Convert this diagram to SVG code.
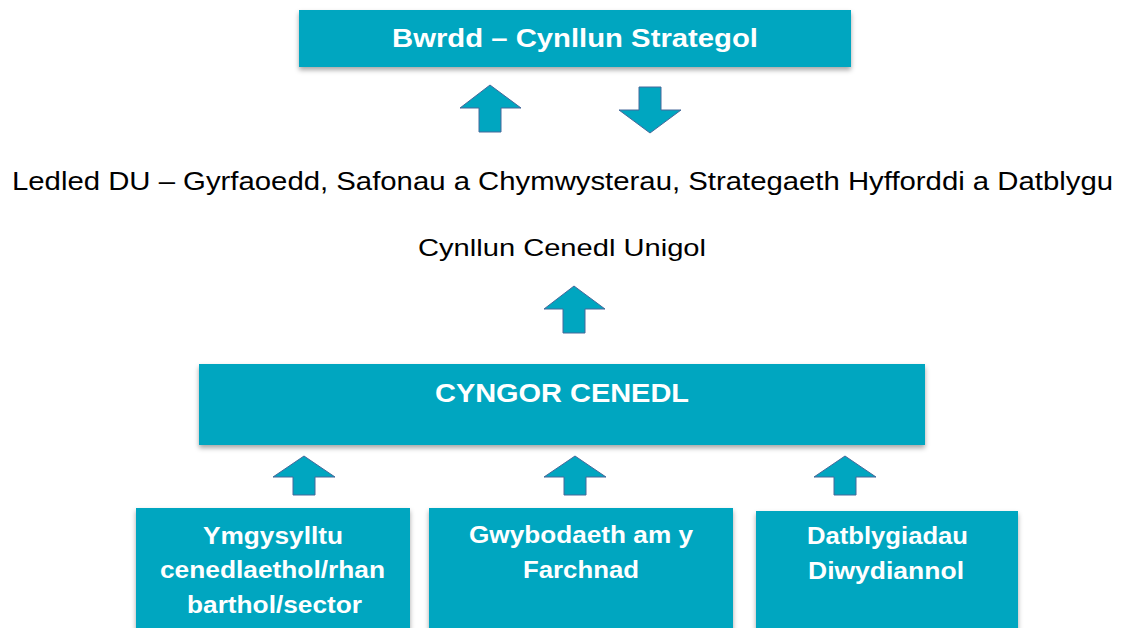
<svg xmlns="http://www.w3.org/2000/svg" width="1121" height="628" viewBox="0 0 1121 628">
<style>
.box{fill:#00A6C0;}
.arrow{fill:#00A6C0;stroke:#46689A;stroke-width:1;}
.wt{fill:#ffffff;font-family:"Liberation Sans",Arial,sans-serif;font-weight:bold;}
.bt{fill:#000000;font-family:"Liberation Sans",Arial,sans-serif;}
</style>
<defs>
<filter id="sh" x="-5%" y="-20%" width="110%" height="150%">
<feDropShadow dx="0" dy="3" stdDeviation="2.5" flood-color="#000" flood-opacity="0.35"/>
</filter>
</defs>
<rect width="1121" height="628" fill="#ffffff"/>
<g id="node-bwrdd">
<rect class="box" x="299" y="10" width="552" height="57" filter="url(#sh)"/>
<text class="wt" x="392" y="47" font-size="25" textLength="366" lengthAdjust="spacingAndGlyphs">Bwrdd – Cynllun Strategol</text>
</g>
<g id="node-ledled">
<text class="bt" x="12" y="190" font-size="26" textLength="1101" lengthAdjust="spacingAndGlyphs">Ledled DU – Gyrfaoedd, Safonau a Chymwysterau, Strategaeth Hyfforddi a Datblygu</text>
</g>
<g id="node-cynllun">
<text class="bt" x="418" y="256" font-size="24" textLength="288" lengthAdjust="spacingAndGlyphs">Cynllun Cenedl Unigol</text>
</g>
<g id="node-cyngor">
<rect class="box" x="199" y="364" width="726" height="81" filter="url(#sh)"/>
<text class="wt" x="435" y="402" font-size="26" textLength="254" lengthAdjust="spacingAndGlyphs">CYNGOR CENEDL</text>
</g>
<g id="node-ymgysylltu">
<rect class="box" x="136" y="508" width="274" height="130" filter="url(#sh)"/>
<text class="wt" x="203" y="544" font-size="23" textLength="140" lengthAdjust="spacingAndGlyphs">Ymgysylltu</text>
<text class="wt" x="160" y="578" font-size="23" textLength="225" lengthAdjust="spacingAndGlyphs">cenedlaethol/rhan</text>
<text class="wt" x="187" y="613" font-size="23" textLength="175" lengthAdjust="spacingAndGlyphs">barthol/sector</text>
</g>
<g id="node-gwybodaeth">
<rect class="box" x="429" y="508" width="304" height="130" filter="url(#sh)"/>
<text class="wt" x="469" y="543" font-size="23" textLength="224" lengthAdjust="spacingAndGlyphs">Gwybodaeth am y</text>
<text class="wt" x="523" y="578" font-size="23" textLength="116" lengthAdjust="spacingAndGlyphs">Farchnad</text>
</g>
<g id="node-datblygiadau">
<rect class="box" x="756" y="511" width="262" height="130" filter="url(#sh)"/>
<text class="wt" x="807" y="544" font-size="23" textLength="161" lengthAdjust="spacingAndGlyphs">Datblygiadau</text>
<text class="wt" x="808" y="579" font-size="23" textLength="156" lengthAdjust="spacingAndGlyphs">Diwydiannol</text>
</g>
<g id="connectors">
<path class="arrow" d="M490,85 L521,108 L501,108 L501,132 L479,132 L479,108 L460,108 Z"/>
<path class="arrow" d="M639,87 L661,87 L661,110 L681,110 L650,133 L619,110 L639,110 Z"/>
<path class="arrow" d="M574,286 L605,309 L585,309 L585,333 L563,333 L563,309 L544,309 Z"/>
<path class="arrow" d="M304,456 L335,477 L315,477 L315,495 L293,495 L293,477 L273,477 Z"/>
<path class="arrow" d="M575,456 L606,477 L586,477 L586,495 L564,495 L564,477 L544,477 Z"/>
<path class="arrow" d="M845,456 L876,477 L856,477 L856,495 L834,495 L834,477 L814,477 Z"/>
</g>
</svg>
